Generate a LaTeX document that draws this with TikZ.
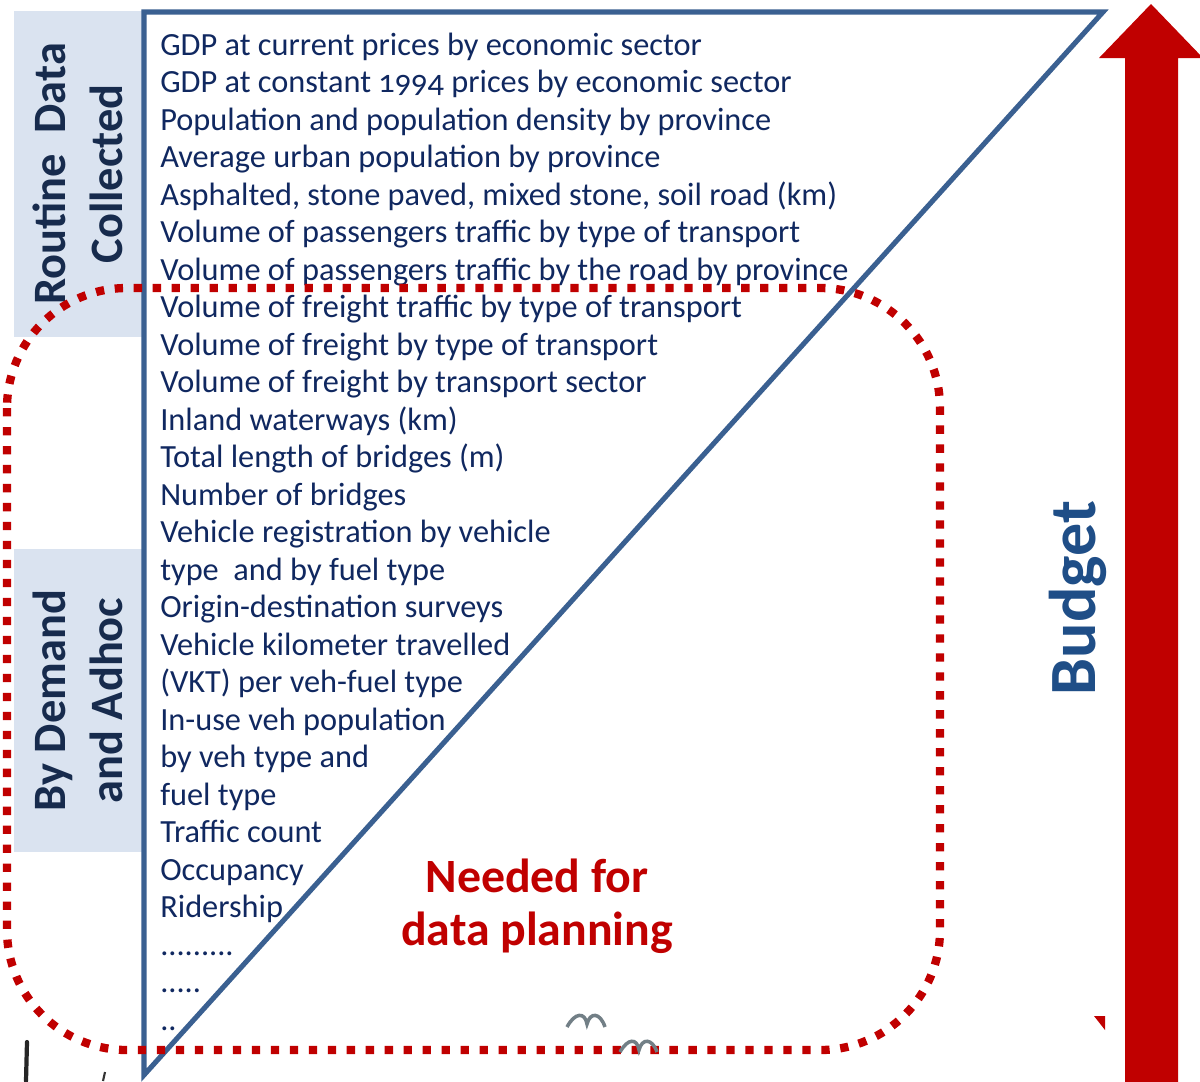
\documentclass[tikz,border=0pt]{standalone}
\usepackage{fontspec}
\setmainfont{Carlito}[Numbers=OldStyle]
\newcommand{\longdots}{.........}
\newcommand{\middots}{.....}
\newcommand{\shortdots}{..}
\begin{document}
\begin{tikzpicture}[x=0.025cm,y=-0.025cm]
        \definecolor{itemblue}{RGB}{16,40,96}
        \definecolor{sideblue}{RGB}{23,43,77}
        \definecolor{sidefill}{RGB}{218,227,240}
        \definecolor{edgeblue}{RGB}{58,96,145}
        \definecolor{budgetblue}{RGB}{31,78,135}
        \definecolor{darkred}{RGB}{192,0,0}

        \tikzstyle{item} = [anchor=base west,inner sep=0pt,text=itemblue,font=\fontsize{23}{27}\selectfont]
        \tikzstyle{side} = [fill=sidefill,rotate=90,minimum height=3.2cm,align=center,text=sideblue,font=\bfseries\fontsize{33}{41}\selectfont]
        \tikzstyle{dotbox} = [draw=darkred,line width=5.9pt,dash pattern=on 5.9pt off 7.6pt,rounded corners=3cm]

        \useasboundingbox (0,0) rectangle (1200,1081);

        \node[side,minimum width=8.15cm] (routine) at (78,174) {Routine~~Data\\Collected};
        \node[side,minimum width=7.575cm] (demand) at (78,700.5) {By Demand\\and Adhoc};

        \coordinate (tl) at (144,12);
        \coordinate (tr) at (1103,12);
        \coordinate (bl) at (144,1075);
        \draw[edgeblue,line width=3.6pt] (tl) -- (tr) -- (bl) -- cycle;

        \foreach \t [count=\i] in {{GDP at current prices by economic sector},
            {GDP at constant 1994 prices by economic sector},
            {Population and population density by province},
            {Average urban population by province},
            {Asphalted, stone paved, mixed stone, soil road (km)},
            {Volume of passengers traffic by type of transport},
            {Volume of passengers traffic by the road by province},
            {Volume of freight traffic by type of transport},
            {Volume of freight by type of transport},
            {Volume of freight by transport sector},
            {Inland waterways (km)},
            {Total length of bridges (m)},
            {Number of bridges},
            {Vehicle registration by vehicle},
            {type~ and by fuel type},
            {Origin-destination surveys},
            {Vehicle kilometer travelled},
            {(VKT) per veh-fuel type},
            {In-use veh population},
            {by veh type and},
            {fuel type},
            {Traffic count},
            {Occupancy},
            {Ridership},
            {\longdots},
            {\middots},
            {\shortdots}}
            \node[item] (item\i) at (160,{55+37.5*(\i-1)}) {\t};

        \node[text=darkred,align=center,font=\bfseries\fontsize{34}{38}\selectfont] (needed) at (537,906) {Needed for\\data planning};

        \draw[dotbox] (7,288) rectangle (940,1050);

        % budget arrow
        \fill[darkred] (1125,1090) -- (1125,58) -- (1099,58) -- (1151,4) -- (1203,58) -- (1178,58) -- (1178,1090) -- cycle;
        \fill[darkred] (1094,1016) -- (1105,1016) -- (1105,1030) -- cycle;
        \node[rotate=90,anchor=base,text=budgetblue,font=\bfseries\fontsize{47}{56}\selectfont] (budget) at (1095,598) {Budget};

        % leftover marks along the bottom
        \draw[black!85,line width=3pt,line cap=round] (27,1042) -- (26,1081);
        \draw[black!80,line width=1.5pt] (105,1072) -- (103,1081);
        \draw[black!60!cyan!40!gray,line width=2.5pt] (567,1027) .. controls (575,1012) and (585,1012) .. (587,1024) .. controls (590,1012) and (600,1012) .. (605,1027);
        \draw[black!60!cyan!40!gray,line width=2.5pt] (620,1052) .. controls (628,1038) and (637,1038) .. (639,1050) .. controls (642,1038) and (652,1038) .. (657,1052);
\end{tikzpicture}
\end{document}
